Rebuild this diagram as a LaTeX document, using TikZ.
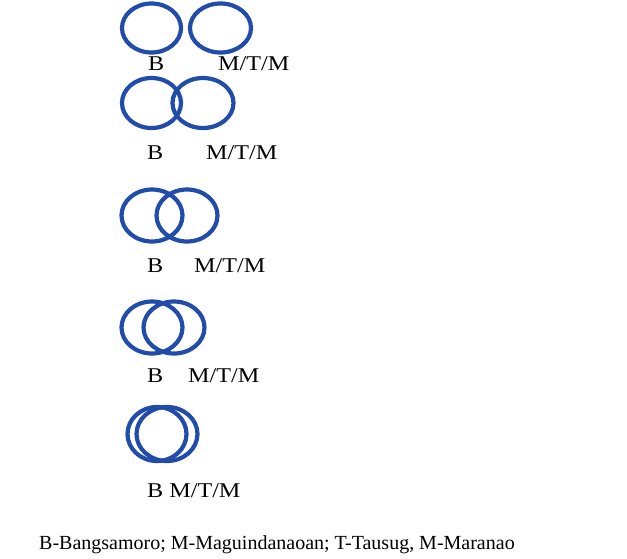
\documentclass[tikz,border=0pt]{standalone}
\usepackage{fontspec}
\setmainfont{Liberation Serif}
\definecolor{ringblue}{RGB}{33,76,170}
\tikzset{
  ring/.style={draw=ringblue, line width=4.2pt},
  lbl/.style={anchor=base west, inner sep=0pt, font=\fontsize{21}{23}\selectfont},
  captxt/.style={anchor=base west, inner sep=0pt, font=\fontsize{20}{22}\selectfont},
}
\newcommand{\wide}[1]{\scalebox{1.15}[1]{#1}}
\begin{document}
\begin{tikzpicture}[x=1pt,y=-1pt]
\useasboundingbox (0,0) rectangle (627,558);
% row 1
\draw[ring] (151.5,28) ellipse [x radius=29.5, y radius=24.5];
\draw[ring] (220.5,28) ellipse [x radius=30.5, y radius=24.5];
\node[lbl] (b1) at (148,70) {\wide{B}};
\node[lbl] (m1) at (218,70) {\wide{M/T/M}};
% row 2
\draw[ring] (151.5,103) ellipse [x radius=29.5, y radius=25];
\draw[ring] (203,103) ellipse [x radius=30.5, y radius=25];
\node[lbl] (b2) at (147,159) {\wide{B}};
\node[lbl] (m2) at (206,159) {\wide{M/T/M}};
% row 3
\draw[ring] (152,215.5) ellipse [x radius=30.5, y radius=26];
\draw[ring] (187,215.5) ellipse [x radius=30.5, y radius=26];
\node[lbl] (b3) at (147,272) {\wide{B}};
\node[lbl] (m3) at (194,272) {\wide{M/T/M}};
% row 4
\draw[ring] (152,327.5) ellipse [x radius=30.5, y radius=26];
\draw[ring] (174,327.5) ellipse [x radius=30.5, y radius=26];
\node[lbl] (b4) at (147,382) {\wide{B}};
\node[lbl] (m4) at (188,382) {\wide{M/T/M}};
% row 5
\draw[ring] (157,434) ellipse [x radius=29.5, y radius=27];
\draw[ring] (167,434) ellipse [x radius=30.5, y radius=27];
\node[lbl] (bm5) at (147,497) {\wide{B M/T/M}};
% caption
\node[captxt] (cap) at (39,549) {B-Bangsamoro; M-Maguindanaoan; T-Tausug, M-Maranao};
\end{tikzpicture}
\end{document}
